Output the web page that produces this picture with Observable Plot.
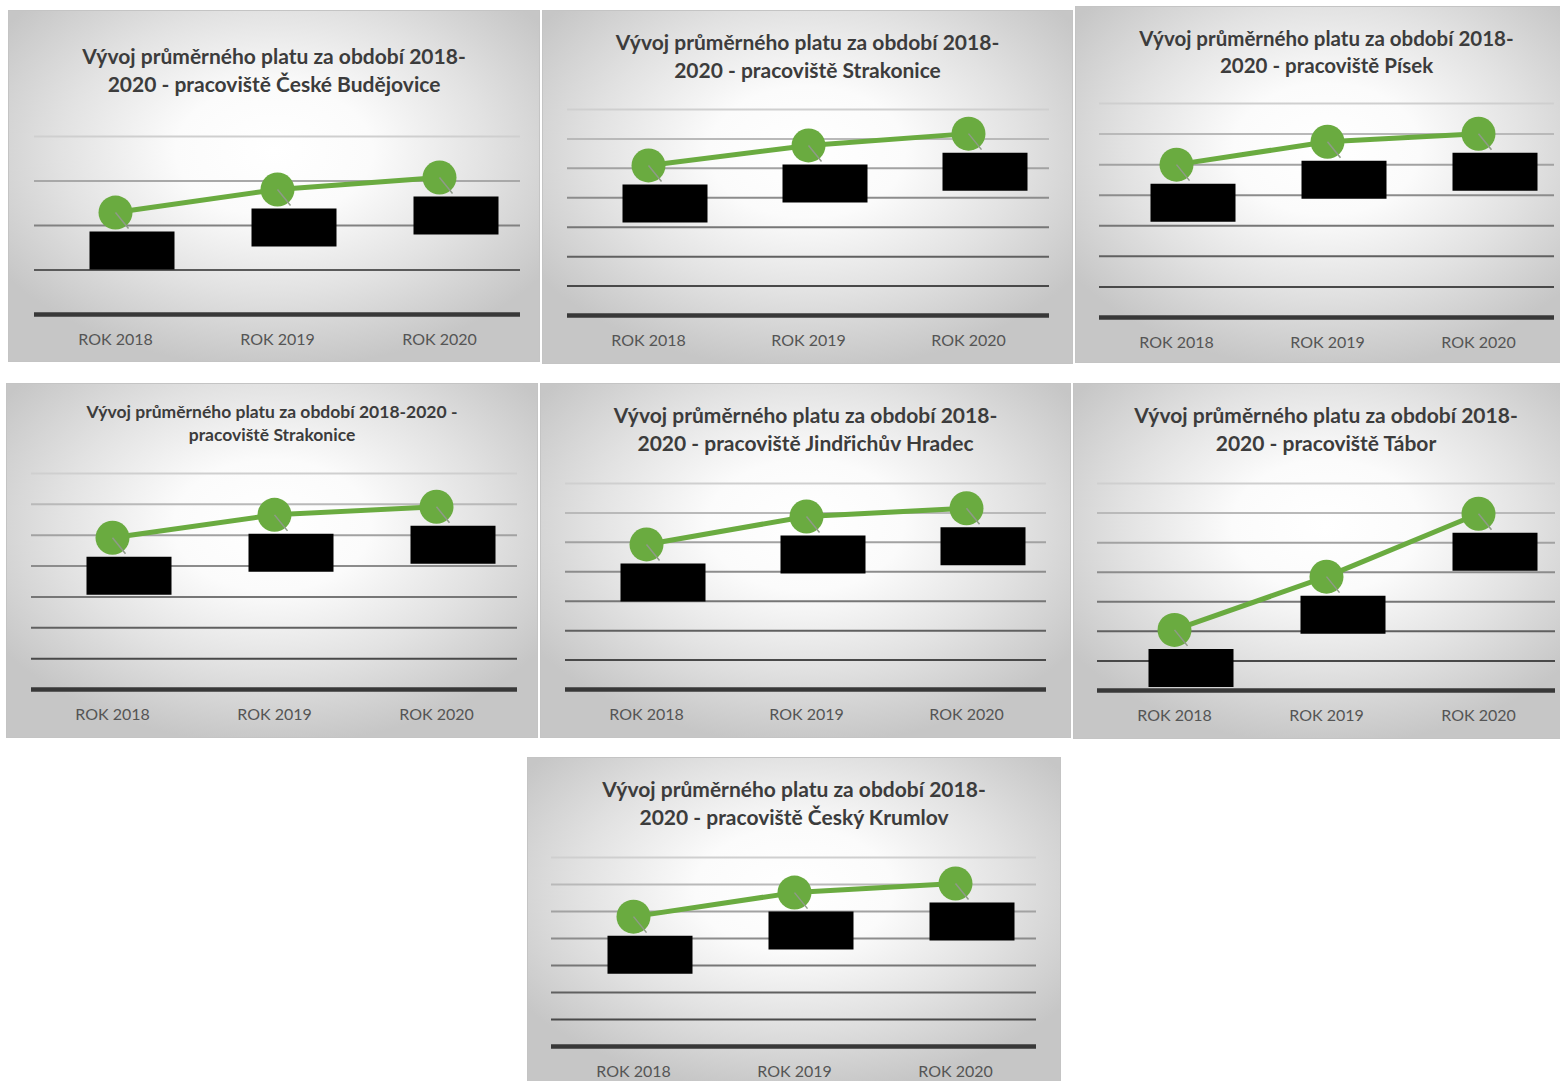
<!DOCTYPE html>
<html><head><meta charset="utf-8">
<script src="https://cdn.jsdelivr.net/npm/d3@7"></script>
<script src="https://cdn.jsdelivr.net/npm/@observablehq/plot@0.6"></script>
<style>
body{margin:0;background:#fff;}
#wrap{position:relative;width:1560px;height:1081px;overflow:hidden;background:#fff;}
.panel{position:absolute;border:1px solid #c4c4c4;box-sizing:border-box;overflow:hidden;
 background:radial-gradient(ellipse 62% 62% at 50% 40%, #ffffff 0%, #fbfbfb 30%, #e2e2e2 65%, #c6c6c6 100%);}
.t{position:absolute;left:0;right:0;text-align:center;font-family:Lato,"Open Sans",sans-serif;font-weight:700;color:#3c3c3c;white-space:nowrap;}
.panel svg{position:absolute;left:0;top:0;}
</style></head>
<body><div id="wrap"></div>
<script>
// ---- data ----
const years = ["ROK 2018", "ROK 2019", "ROK 2020"];
const titles = [
  ["Vývoj průměrného platu za období 2018-", "2020 - pracoviště České Budějovice"],
  ["Vývoj průměrného platu za období 2018-", "2020 - pracoviště Strakonice"],
  ["Vývoj průměrného platu za období 2018-", "2020 - pracoviště Písek"],
  ["Vývoj průměrného platu za období 2018-2020 -", "pracoviště Strakonice"],
  ["Vývoj průměrného platu za období 2018-", "2020 - pracoviště Jindřichův Hradec"],
  ["Vývoj průměrného platu za období 2018-", "2020 - pracoviště Tábor"],
  ["Vývoj průměrného platu za období 2018-", "2020 - pracoviště Český Krumlov"]
];
const valuesCeskeBudejovice = [22900, 28100, 30800];
const valuesStrakonice      = [25500, 28900, 30900];
const valuesPisek           = [25000, 28750, 30050];
const valuesStrakonice2     = [24600, 28300, 29600];
const valuesJindrichuvHradec= [24650, 29400, 30800];
const valuesTabor           = [22100, 25700, 29950];
const valuesCeskyKrumlov    = [24050, 28500, 30200];
const gridCB   = [0, 10000, 20000, 30000, 40000];
const gridStd  = [0, 5000, 10000, 15000, 20000, 25000, 30000, 35000];
const gridTab  = [18000, 20000, 22000, 24000, 26000, 28000, 30000, 32000];

// ---- layout ----
const layout = [
  {left:8,   top:10,  w:532, h:352, fs:21, t1:45, t2:73, ml:25, mr:19, mt:125, base:303, vals:valuesCeskeBudejovice, grid:gridCB},
  {left:542, top:10,  w:531, h:354, fs:21, t1:31, t2:59, ml:24, mr:23, mt:98,  base:304, vals:valuesStrakonice, grid:gridStd},
  {left:1075,top:6,   w:503, h:357, fs:20.5, t1:31, t2:58, ml:23, mr:23, mt:96,  base:310, vals:valuesPisek, grid:gridStd},
  {left:6,   top:383, w:532, h:355, fs:17.5, t1:28, t2:51, ml:24, mr:20, mt:89,  base:305, vals:valuesStrakonice2, grid:gridStd},
  {left:540, top:383, w:531, h:355, fs:21, t1:31, t2:59, ml:24, mr:24, mt:99,  base:305, vals:valuesJindrichuvHradec, grid:gridStd},
  {left:1073,top:383, w:506, h:356, fs:21, t1:31, t2:59, ml:23, mr:23, mt:99,  base:306, vals:valuesTabor, grid:gridTab},
  {left:527, top:757, w:534, h:330, fs:21, t1:31, t2:59, ml:23, mr:24, mt:99,  base:288, vals:valuesCeskyKrumlov, grid:gridStd}
];

const green = "#6aab40";
const boxSymbol = {draw(ctx){ ctx.rect(-26, 19, 85, 38); }};
const leaderSymbol = {draw(ctx){ ctx.moveTo(0, 0); ctx.lineTo(13, 16); }};

const wrap = document.getElementById("wrap");
layout.forEach((p, i) => {
  const div = document.createElement("div");
  div.className = "panel";
  Object.assign(div.style, {left:p.left+"px", top:p.top+"px", width:p.w+"px", height:p.h+"px"});
  const data = years.map((y, k) => ({year: y, value: p.vals[k]}));
  const g = p.grid;
  const lo = g[0], hi = g[g.length-1];
  const shade = d3.interpolateRgb("#cfcfcf", "#333333");
  const chart = Plot.plot({
    width: p.w - 2, height: p.h - 2,
    marginLeft: p.ml, marginRight: p.mr, marginTop: p.mt, marginBottom: p.h - 2 - p.base,
    style: {background: "transparent", color: "#555555", fontFamily: "Lato, 'Open Sans', sans-serif", fontSize: "16px", overflow: "visible"},
    x: {type: "point", domain: years, padding: 0.5, tickSize: 0, tickPadding: 19, label: null},
    y: {domain: [lo, hi], axis: null},
    color: {type: "identity"},
    marks: [
      Plot.ruleY(g.slice(1), {stroke: d => shade(1 - (d - lo) / (hi - lo)), strokeWidth: 2}),
      Plot.ruleY([lo], {stroke: "#383838", strokeWidth: 4.5}),
      Plot.line(data, {x: "year", y: "value", stroke: green, strokeWidth: 5}),
      Plot.dot(data, {x: "year", y: "value", r: 17, fill: green}),
      Plot.dot(data, {x: "year", y: "value", symbol: leaderSymbol, r: 5, fill: "none", stroke: "#8f9a88", strokeWidth: 1.5}),
      Plot.dot(data, {x: "year", y: "value", symbol: boxSymbol, r: 5, fill: "black", stroke: "none"})
    ]
  });
  div.appendChild(chart);
  [p.t1, p.t2].forEach((c, k) => {
    const t = document.createElement("div");
    t.className = "t";
    t.textContent = titles[i][k];
    Object.assign(t.style, {top: (c - 14) + "px", lineHeight: "28px", fontSize: p.fs + "px"});
    div.appendChild(t);
  });
  wrap.appendChild(div);
});
</script></body></html>
